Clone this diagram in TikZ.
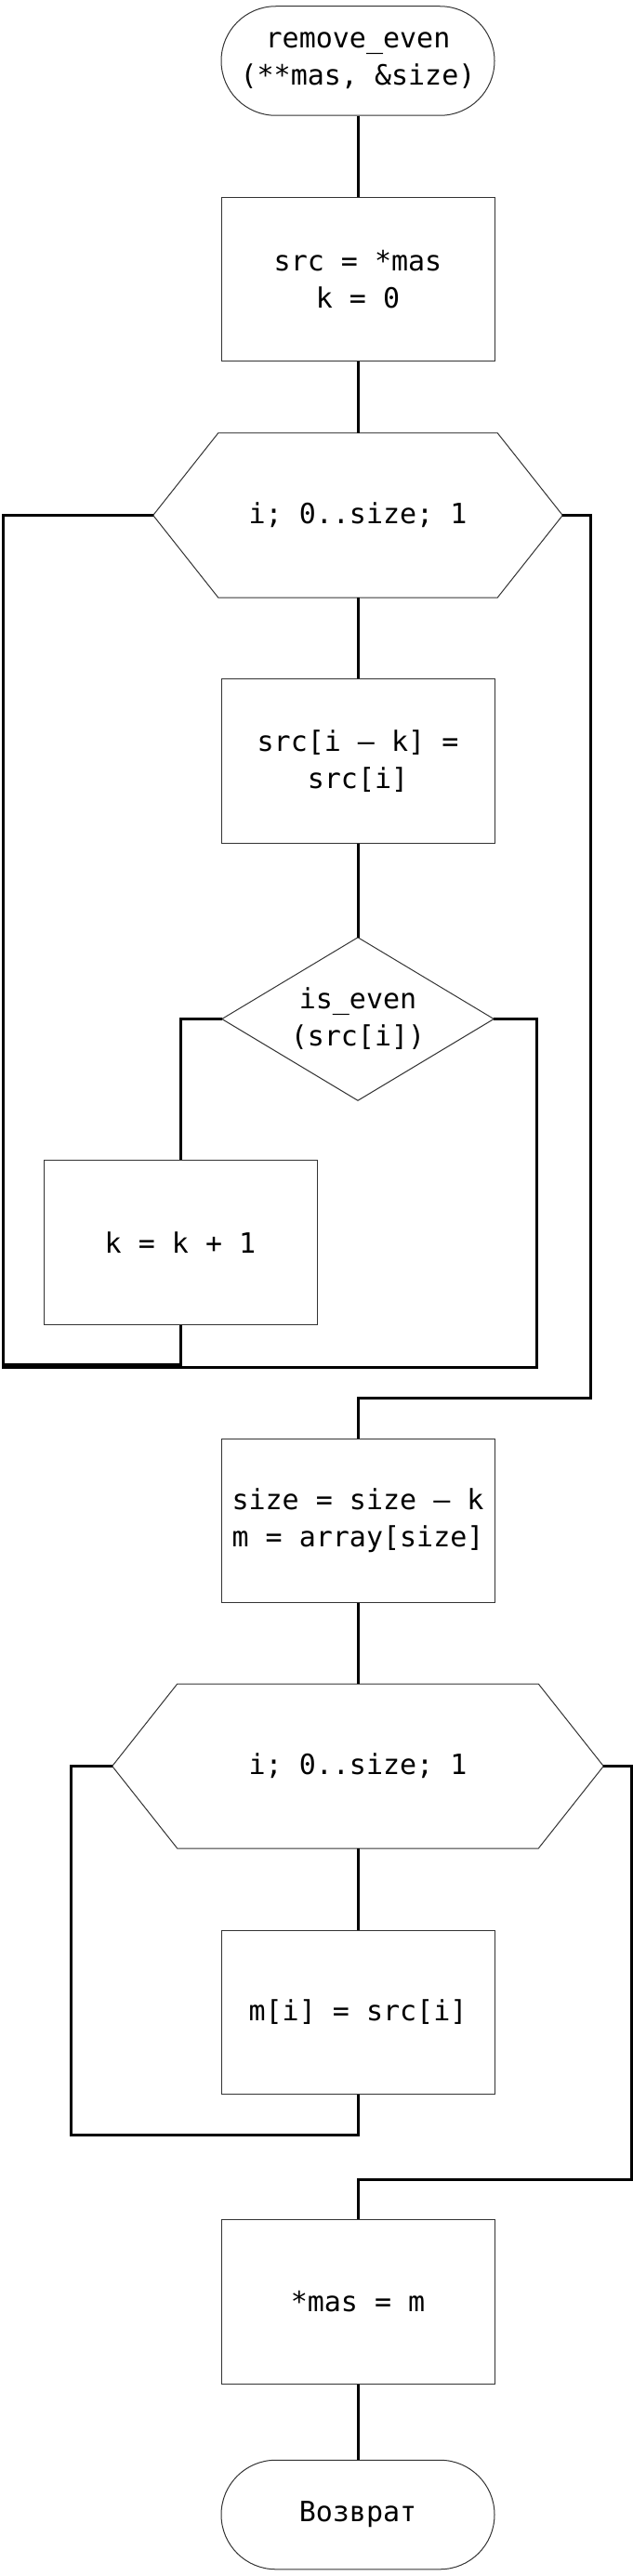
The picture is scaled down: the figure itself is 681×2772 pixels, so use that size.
\documentclass[tikz,border=0pt]{standalone}
\usepackage{fontspec}
\setmonofont{DejaVu Sans Mono}
\newlength\unitpx
\setlength\unitpx{0.75pt}
\begin{document}
\begin{tikzpicture}[x=0.75pt,y=-0.75pt,
  outline/.style={draw=black!80,line width=0.75pt},
  conn/.style={draw=black,line width=2.25pt},
  txt/.style={font=\ttfamily\fontsize{22.5}{30}\selectfont,align=center,inner sep=0pt},
  procbox/.style={txt,outline,minimum width=294\unitpx,minimum height=176.5\unitpx},
  termbox/.style={txt,outline,minimum width=294\unitpx,minimum height=117.5\unitpx,rounded corners=58.7\unitpx},
  hexbox/.style={txt,minimum height=176.5\unitpx},
  decbox/.style={txt,minimum width=292\unitpx,minimum height=175\unitpx}]
\useasboundingbox (0,0) rectangle (681,2772);
\fill[white] (0,0) rectangle (681,2772);

% nodes
\node[termbox] (t1) at (385,65.5) {remove\_even\\(**mas, \&size)};
\node[procbox] (b1) at (385,300.5) {src = *mas\\k = 0};
\node[hexbox,minimum width=440\unitpx] (h1) at (385,554.5) {i; 0..size; 1};
\node[procbox] (b2) at (385,819) {src[i – k] =\\src[i]};
\node[decbox] (d1) at (385,1096.5) {is\_even\\(src[i])};
\node[procbox] (b3) at (194,1337) {k = k + 1};
\node[procbox] (b4) at (385,1636.5) {size = size – k\\m = array[size]};
\node[hexbox,minimum width=528\unitpx] (h2) at (385,1900.5) {i; 0..size; 1};
\node[procbox] (b5) at (385,2165.5) {m[i] = src[i]};
\node[procbox] (b6) at (385,2477) {*mas = m};
\node[termbox] (t2) at (385,2706) {Возврат};

% hexagon and diamond outlines
\foreach \h in {h1,h2}{
  \draw[outline] (\h.west) -- ([xshift=70\unitpx]\h.north west) -- ([xshift=-70\unitpx]\h.north east)
    -- (\h.east) -- ([xshift=-70\unitpx]\h.south east) -- ([xshift=70\unitpx]\h.south west) -- cycle;
}
\draw[outline] (d1.north) -- (d1.east) -- (d1.south) -- (d1.west) -- cycle;

% coordinates for loop returns
\coordinate (L1) at (3,1468);
\coordinate (R1) at (577,1471);
\coordinate (R1e) at (1.5,1471);
\coordinate (E1) at (635,1504);
\coordinate (L2) at (76,2297);
\coordinate (E2) at (679,2345);

% straight connectors
\draw[conn] (t1.south) -- (b1.north);
\draw[conn] (b1.south) -- (h1.north);
\draw[conn] (h1.south) -- (b2.north);
\draw[conn] (b2.south) -- (d1.north);
\draw[conn] (b4.south) -- (h2.north);
\draw[conn] (h2.south) -- (b5.north);
\draw[conn] (b6.south) -- (t2.north);

% branches and loops
\draw[conn] (d1.west) -| (b3.north);
\draw[conn] (b3.south) |- (L1) |- (h1.west);
\draw[conn] (d1.east) -| (R1) -- (R1e);
\draw[conn] (h1.east) -| (E1) -| (b4.north);
\draw[conn] (b5.south) |- (L2) |- (h2.west);
\draw[conn] (h2.east) -| (E2) -| (b6.north);
\end{tikzpicture}
\end{document}
